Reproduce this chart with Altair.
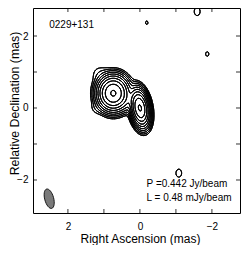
import numpy as np
import pandas as pd
import altair as alt

# ---------------- data ----------------
# Gaussian brightness components (mas, mJy/beam, deg east of north)
comp_x = [0.00, 0.74, 0.35, 1.12, 1.20, -0.19, -1.59, -1.87, -1.08]
comp_y = [0.00, 0.41, 0.20, 0.95, 0.00, 2.37, 2.68, 1.50, -1.81]
comp_peak = [265.0, 265.0, 6.0, 0.7, 0.6, 0.495, 0.58, 0.507, 0.575]
comp_smaj = [0.218, 0.20, 0.15, 0.16, 0.12, 0.18, 0.18, 0.18, 0.18]
comp_smin = [0.105, 0.178, 0.15, 0.16, 0.12, 0.13, 0.13, 0.13, 0.13]
comp_pa = [10.0, 0.0, 0.0, 0.0, 0.0, 0.0, 0.0, 0.0, 0.0]

# contour levels (mJy/beam): lowest 0.48, factor 2
levels = [0.48, 0.96, 1.92, 3.84, 7.68, 15.36, 30.72, 61.44, 122.88, 245.76]

# restoring beam
beam_x = [2.52]
beam_y = [-2.52]

# axis ticks
tick_vals = [-2, -1, 0, 1, 2]
label_vals = [2, 0, -2]

# annotations
ann_text = ["0229+131", "P =0.442 Jy/beam", "L = 0.48 mJy/beam"]
ann_x = [2.52, -0.186, -0.186]
ann_y = [2.21, -2.19, -2.57]

# visible window (mas)
x_dom = [2.97, -2.78]
y_dom = [-2.917, 2.778]

# ---------------- contour computation ----------------
step = 0.012
gx = np.arange(-3.0, 3.0 + step / 2, step)
gy = np.arange(-3.0, 3.0 + step / 2, step)
GX, GY = np.meshgrid(gx, gy)
Z = np.zeros_like(GX)
for x0, y0, a, smaj, smin, pa in zip(comp_x, comp_y, comp_peak, comp_smaj, comp_smin, comp_pa):
    th = np.deg2rad(pa)
    dx = GX - x0
    dy = GY - y0
    u = dx * np.sin(th) + dy * np.cos(th)
    v = dx * np.cos(th) - dy * np.sin(th)
    Z += a * np.exp(-0.5 * (u ** 2 / smaj ** 2 + v ** 2 / smin ** 2))


def march(xs, ys, Z, lev):
    z00 = Z[:-1, :-1]
    z10 = Z[:-1, 1:]
    z01 = Z[1:, :-1]
    z11 = Z[1:, 1:]
    shp = z00.shape
    X0 = np.broadcast_to(xs[:-1][None, :], shp)
    X1 = np.broadcast_to(xs[1:][None, :], shp)
    Y0 = np.broadcast_to(ys[:-1][:, None], shp)
    Y1 = np.broadcast_to(ys[1:][:, None], shp)

    def t(a, b):
        with np.errstate(divide="ignore", invalid="ignore"):
            r = (lev - a) / (b - a)
        return np.nan_to_num(r)

    b00, b10, b01, b11 = z00 >= lev, z10 >= lev, z01 >= lev, z11 >= lev
    m = np.stack([b00 != b10, b10 != b11, b01 != b11, b00 != b01])
    t0 = t(z00, z10)
    t1 = t(z10, z11)
    t2 = t(z01, z11)
    t3 = t(z00, z01)
    ex = np.stack([X0 + t0 * (X1 - X0), X1, X0 + t2 * (X1 - X0), X0])
    ey = np.stack([Y0, Y0 + t1 * (Y1 - Y0), Y1, Y0 + t3 * (Y1 - Y0)])
    cnt = m.sum(0)
    out = []
    for a, b in [(0, 1), (0, 2), (0, 3), (1, 2), (1, 3), (2, 3)]:
        sel = (cnt == 2) & m[a] & m[b]
        out.append(np.column_stack([ex[a][sel], ey[a][sel], ex[b][sel], ey[b][sel]]))
    for a, b in [(0, 3), (1, 2)]:
        sel = cnt == 4
        out.append(np.column_stack([ex[a][sel], ey[a][sel], ex[b][sel], ey[b][sel]]))
    return np.vstack(out)


segs = np.vstack([march(gx, gy, Z, lv) for lv in levels])
seg_df = pd.DataFrame(np.round(segs, 4), columns=["x", "y", "x2", "y2"])

W, H = 207, 205
xscale = alt.Scale(domain=x_dom, nice=False, zero=False)
yscale = alt.Scale(domain=y_dom, nice=False, zero=False)
FONT = "Liberation Sans"

xaxis = alt.Axis(values=label_vals, ticks=False, domain=False, grid=False,
                 labelFontSize=10, labelPadding=8, labelColor="black",
                 labelFont=FONT, titleFont=FONT,
                 title="Right Ascension (mas)", titleFontSize=12,
                 titleFontWeight="normal", titleColor="black",
                 titleX=107, titleY=29.5, titleAlign="center",
                 titleBaseline="alphabetic")
yaxis = alt.Axis(values=label_vals, ticks=False, domain=False, grid=False,
                 labelFontSize=10, labelPadding=5, labelColor="black",
                 labelFont=FONT, titleFont=FONT,
                 title="Relative Declination (mas)", titleFontSize=12.3,
                 titleFontWeight="normal", titleColor="black",
                 titleAngle=270, titleX=-19, titleY=95, titleAlign="center",
                 titleBaseline="middle")

X = lambda f: alt.X(f, scale=xscale, axis=xaxis)
Y = lambda f: alt.Y(f, scale=yscale, axis=yaxis)

contours = alt.Chart(seg_df).mark_rule(
    color="black", strokeWidth=0.85, clip=True, strokeCap="round"
).encode(x=X("x:Q"), y=Y("y:Q"), x2="x2:Q", y2="y2:Q")

beam_path = "M0,-1A0.45,1,0,1,1,0,1A0.45,1,0,1,1,0,-1Z"
beam = alt.Chart(pd.DataFrame({"x": beam_x, "y": beam_y})).mark_point(
    shape=beam_path, filled=True, fill="#7a7a7a", stroke="black",
    strokeWidth=0.8, size=400, angle=345, opacity=1
).encode(x=X("x:Q"), y=Y("y:Q"))

ann = alt.Chart(pd.DataFrame({"t": ann_text, "x": ann_x, "y": ann_y})).mark_text(
    align="left", baseline="alphabetic", fontSize=10, font=FONT, color="black"
).encode(x=X("x:Q"), y=Y("y:Q"), text="t:N")

tdf = pd.DataFrame({"x": tick_vals, "y": tick_vals})
tick_style = dict(color="black", strokeWidth=0.8)
tb = alt.Chart(tdf).mark_rule(**tick_style).encode(
    x=X("x:Q"), y=alt.value(H), y2=alt.value(H - 4))
tt = alt.Chart(tdf).mark_rule(**tick_style).encode(
    x=X("x:Q"), y=alt.value(0), y2=alt.value(4))
tl = alt.Chart(tdf).mark_rule(**tick_style).encode(
    y=Y("y:Q"), x=alt.value(0), x2=alt.value(4))
tr = alt.Chart(tdf).mark_rule(**tick_style).encode(
    y=Y("y:Q"), x=alt.value(W), x2=alt.value(W - 4))

chart = alt.layer(contours, beam, ann, tb, tt, tl, tr).properties(
    width=W, height=H,
    background="white",
    autosize=alt.AutoSizeParams(type="none"),
    padding={"left": 25, "top": 0, "right": 1, "bottom": 32},
).configure_view(
    stroke="black", strokeWidth=1
)

chart.save("out.html", embed_options={"renderer": "svg", "actions": False})
